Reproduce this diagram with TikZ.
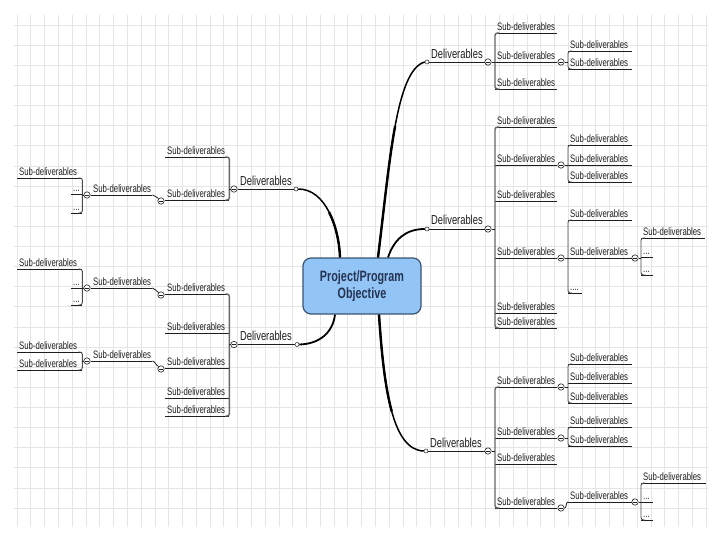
\documentclass[tikz,border=0pt]{standalone}
\usepackage{fontspec}
\newfontfamily\cf[FakeStretch=0.72]{Liberation Sans}
\newcommand\subfnt{\cf\fontsize{10.8}{12}\selectfont}
\newcommand\delfnt{\cf\fontsize{13}{15}\selectfont}
\newcommand\objfnt{\cf\bfseries\fontsize{15}{16.5}\selectfont}
\usetikzlibrary{calc}
\definecolor{gridc}{RGB}{226,230,230}
\definecolor{objfill}{RGB}{146,196,246}
\definecolor{objborder}{RGB}{58,84,112}
\definecolor{objtext}{RGB}{38,52,82}
\definecolor{inkc}{RGB}{30,30,30}
\newcommand\tpc[5]{\node[mmtp] (#1) at (#2,#3) {\makebox[\dimexpr#4pt-4pt\relax][l]{#5}};\draw[mmul] (#1.south west) -- (#1.south east);}
\newcommand\rbr[3][]{\draw[mmbr,#1] ($(#2.south west)+(4,0)$) -- (#2.south west) -- (#3.south west) -- ($(#3.south west)+(4,0)$);}
\newcommand\lbr[3][]{\draw[mmbr,#1] ($(#2.south east)+(-4,0)$) -- (#2.south east) -- (#3.south east) -- ($(#3.south east)+(-4,0)$);}
\begin{document}
\begin{tikzpicture}[x=1pt,y=-1pt,
  mmgrid/.style={draw=gridc,line width=0.6pt},
  mmtp/.style={anchor=south west,inner xsep=2pt,inner ysep=2.5pt,font=\subfnt,text=inkc},
  mmul/.style={draw=inkc,line width=0.8pt},
  mmbr/.style={draw=black!70,line width=0.9pt,rounded corners=2.5pt},
  mmmainbr/.style={draw=black!60,line width=1.4pt},
  mmcol/.style={circle,draw=inkc,fill=white,line width=0.6pt,minimum size=6.4pt,inner sep=0pt,
    path picture={\draw[line width=0.6pt] ([xshift=-1.7pt]path picture bounding box.center) -- ([xshift=1.7pt]path picture bounding box.center);}},
  mmend/.style={circle,draw=inkc,fill=white,line width=0.5pt,minimum size=4pt,inner sep=0pt},
  mmdl/.style={anchor=base west,inner sep=0pt,font=\delfnt,text=inkc},
  mmmain/.style={draw=black,line width=1.5pt},
  mmthick/.style={draw=black,line width=2.4pt}]
\useasboundingbox (0,0) rectangle (720,540);
\fill[white] (0,0) rectangle (720,540);
\foreach \i in {0,...,24} \draw[mmgrid] (14,{25+20.125*\i}) -- (708,{25+20.125*\i});
\foreach \i in {0,...,50} \draw[mmgrid] ({17+13.78*\i},15) -- ({17+13.78*\i},527);

% central objective
\node[draw=objborder,fill=objfill,rounded corners=8pt,line width=1.2pt,minimum width=118pt,minimum height=56pt,
  align=center,font=\objfnt,text=objtext,inner sep=0pt] (obj) at (362,286) {Project/Program\\Objective};

% ---------- right top ----------
\node[mmend] (e1) at (427,62) {};
\node[mmcol] (c1) at (488,62) {};
\node[mmdl] (d1) at (431,58.5) {Deliverables};
\draw[mmul] (e1) -- (c1);
\tpc{s11}{495}{33}{62}{Sub-deliverables}
\tpc{s12}{495}{62}{62}{Sub-deliverables}
\tpc{s13}{495}{89}{62}{Sub-deliverables}
\rbr[mmmainbr]{s11}{s13}
\draw[mmul] (c1) -- (c1 -| s11.south west);
\node[mmcol] (c12) at (561,62) {};
\tpc{s121}{568}{51}{64}{Sub-deliverables}
\tpc{s122}{568}{69}{64}{Sub-deliverables}
\rbr{s121}{s122}
\draw[mmul] (c12) -- (c12 -| s121.south west);

% ---------- right middle ----------
\node[mmend] (e2) at (427,229) {};
\node[mmcol] (c2) at (488,229) {};
\node[mmdl] (d2) at (431,224.5) {Deliverables};
\draw[mmul] (e2) -- (c2);
\tpc{s21}{495}{127}{62}{Sub-deliverables}
\tpc{s22}{495}{165}{62}{Sub-deliverables}
\tpc{s23}{495}{201}{62}{Sub-deliverables}
\tpc{s24}{495}{258}{62}{Sub-deliverables}
\tpc{s25}{495}{313}{62}{Sub-deliverables}
\tpc{s26}{495}{328}{62}{Sub-deliverables}
\rbr[mmmainbr]{s21}{s26}
\draw[mmul] (c2) -- (c2 -| s21.south west);
\node[mmcol] (c22) at (561,165) {};
\tpc{s221}{568}{145}{64}{Sub-deliverables}
\tpc{s222}{568}{165}{64}{Sub-deliverables}
\tpc{s223}{568}{182}{64}{Sub-deliverables}
\rbr{s221}{s223}
\draw[mmul] (c22) -- (c22 -| s221.south west);
\node[mmcol] (c24) at (561,258) {};
\tpc{s241}{568}{220}{64}{Sub-deliverables}
\tpc{s242}{568}{258}{64}{Sub-deliverables}
\tpc{s243}{568}{293}{14}{....}
\rbr{s241}{s243}
\draw[mmul] (c24) -- (c24 -| s241.south west);
\node[mmcol] (c242) at (635,258) {};
\tpc{s2421}{641}{238}{64}{Sub-deliverables}
\tpc{s2422}{641}{257}{12}{...}
\tpc{s2423}{641}{275}{12}{...}
\rbr{s2421}{s2423}
\draw[mmul] (c242) -- (c242 -| s2421.south west);

% ---------- right bottom ----------
\node[mmend] (e3) at (426,451) {};
\node[mmcol] (c3) at (488,451) {};
\node[mmdl] (d3) at (430,447) {Deliverables};
\draw[mmul] (e3) -- (c3);
\tpc{s31}{495}{387}{62}{Sub-deliverables}
\tpc{s32}{495}{438}{62}{Sub-deliverables}
\tpc{s33}{495}{464}{62}{Sub-deliverables}
\tpc{s34}{495}{508}{62}{Sub-deliverables}
\rbr[mmmainbr]{s31}{s34}
\draw[mmul] (c3) -- (c3 -| s31.south west);
\node[mmcol] (c31) at (561,387) {};
\tpc{s311}{568}{364}{64}{Sub-deliverables}
\tpc{s312}{568}{383}{64}{Sub-deliverables}
\tpc{s313}{568}{403}{64}{Sub-deliverables}
\rbr{s311}{s313}
\draw[mmul] (c31) -- (c31 -| s311.south west);
\node[mmcol] (c32) at (561,438) {};
\tpc{s321}{568}{427}{64}{Sub-deliverables}
\tpc{s322}{568}{446}{64}{Sub-deliverables}
\rbr{s321}{s322}
\draw[mmul] (c32) -- (c32 -| s321.south west);
\node[mmcol] (c34) at (561,508) {};
\tpc{s341}{568}{502}{64}{Sub-deliverables}
\draw[mmul] (c34.east) .. controls +(2.5,0) and +(-2.5,0) .. (s341.south west);
\node[mmcol] (c341) at (635,502) {};
\tpc{s3411}{641}{483}{65}{Sub-deliverables}
\tpc{s3412}{641}{502}{12}{...}
\tpc{s3413}{641}{520}{12}{...}
\rbr{s3411}{s3413}
\draw[mmul] (c341) -- (c341 -| s3411.south west);

% ---------- left top ----------
\node[mmend] (e4) at (296,189) {};
\node[mmcol] (c4) at (234,189) {};
\node[mmdl] (d4) at (240,185.5) {Deliverables};
\draw[mmul] (c4) -- (e4);
\tpc{s41}{165}{157}{64}{Sub-deliverables}
\tpc{s42}{165}{200}{64}{Sub-deliverables}
\lbr[mmmainbr]{s41}{s42}
\draw[mmul] (c4) -- (c4 -| s41.south east);
\node[mmcol] (c42) at (161,201) {};
\tpc{s421}{91}{195}{61}{Sub-deliverables}
\draw[mmul] (c42.north west) .. controls +(-2.5,-1) and +(2.5,0) .. (s421.south east);
\node[mmcol] (c421) at (87,195) {};
\draw[mmul] (c421) -- (s421.south west);
\tpc{s4211}{17}{178}{65}{Sub-deliverables}
\tpc{s4212}{71}{194}{11}{...}
\tpc{s4213}{71}{213}{11}{...}
\lbr{s4211}{s4213}
\draw[mmul] (c421) -- (c421 -| s4211.south east);

% ---------- left bottom ----------
\node[mmend] (e5) at (297,344.5) {};
\node[mmcol] (c5) at (234,344.5) {};
\node[mmdl] (d5) at (240,340.5) {Deliverables};
\draw[mmul] (c5) -- (e5);
\tpc{s51}{165}{294}{64}{Sub-deliverables}
\tpc{s52}{165}{333}{64}{Sub-deliverables}
\tpc{s53}{165}{368}{64}{Sub-deliverables}
\tpc{s54}{165}{398}{64}{Sub-deliverables}
\tpc{s55}{165}{416}{64}{Sub-deliverables}
\lbr[mmmainbr]{s51}{s55}
\draw[mmul] (c5) -- (c5 -| s51.south east);
\node[mmcol] (c51) at (161,295) {};
\tpc{s511}{91}{288}{61}{Sub-deliverables}
\draw[mmul] (c51.north west) .. controls +(-2.5,-1) and +(2.5,0) .. (s511.south east);
\node[mmcol] (c511) at (87,288) {};
\draw[mmul] (c511) -- (s511.south west);
\tpc{s5111}{17}{269}{65}{Sub-deliverables}
\tpc{s5112}{71}{288}{11}{...}
\tpc{s5113}{71}{305}{11}{...}
\lbr{s5111}{s5113}
\draw[mmul] (c511) -- (c511 -| s5111.south east);
\node[mmcol] (c53) at (161,369) {};
\tpc{s531}{91}{361}{61}{Sub-deliverables}
\draw[mmul] (c53.north west) .. controls +(-2.5,-1) and +(2.5,0) .. (s531.south east);
\node[mmcol] (c531) at (87,361) {};
\draw[mmul] (c531) -- (s531.south west);
\tpc{s5311}{17}{352}{65}{Sub-deliverables}
\tpc{s5312}{17}{370}{65}{Sub-deliverables}
\lbr{s5311}{s5312}
\draw[mmul] (c531) -- (c531 -| s5311.south east);

% ---------- main connectors ----------
\draw[mmmain] ($(obj.north)+(16,0)$) .. controls (390,160) and (396,70) .. (e1.west);
\draw[mmthick] ($(obj.north)+(16,0)$) .. controls (384,209) and (388.5,162) .. (395.1,126.25);
\draw[mmmain,line width=1.8pt] ($(obj.north)+(26,0)$) .. controls (394,240) and (405,229) .. (e2.west);
\draw[mmmain] ($(obj.south)+(17,0)$) .. controls (384,392) and (393,450) .. (e3.west);
\draw[mmthick] ($(obj.south)+(17,0)$) .. controls (381.5,353) and (385,387) .. (391.75,411.4);
\draw[mmmain] ($(obj.north)+(-22,0)$) .. controls (339,228) and (326,189) .. (e4.east);
\draw[mmthick] ($(obj.north)+(-22,0)$) .. controls (339.5,243) and (336,225.75) .. (329.1,212.25);
\draw[mmmain,line width=1.8pt] ($(obj.south)+(-27,0)$) .. controls (333,332) and (320,344) .. (e5.east);
\end{tikzpicture}
\end{document}
